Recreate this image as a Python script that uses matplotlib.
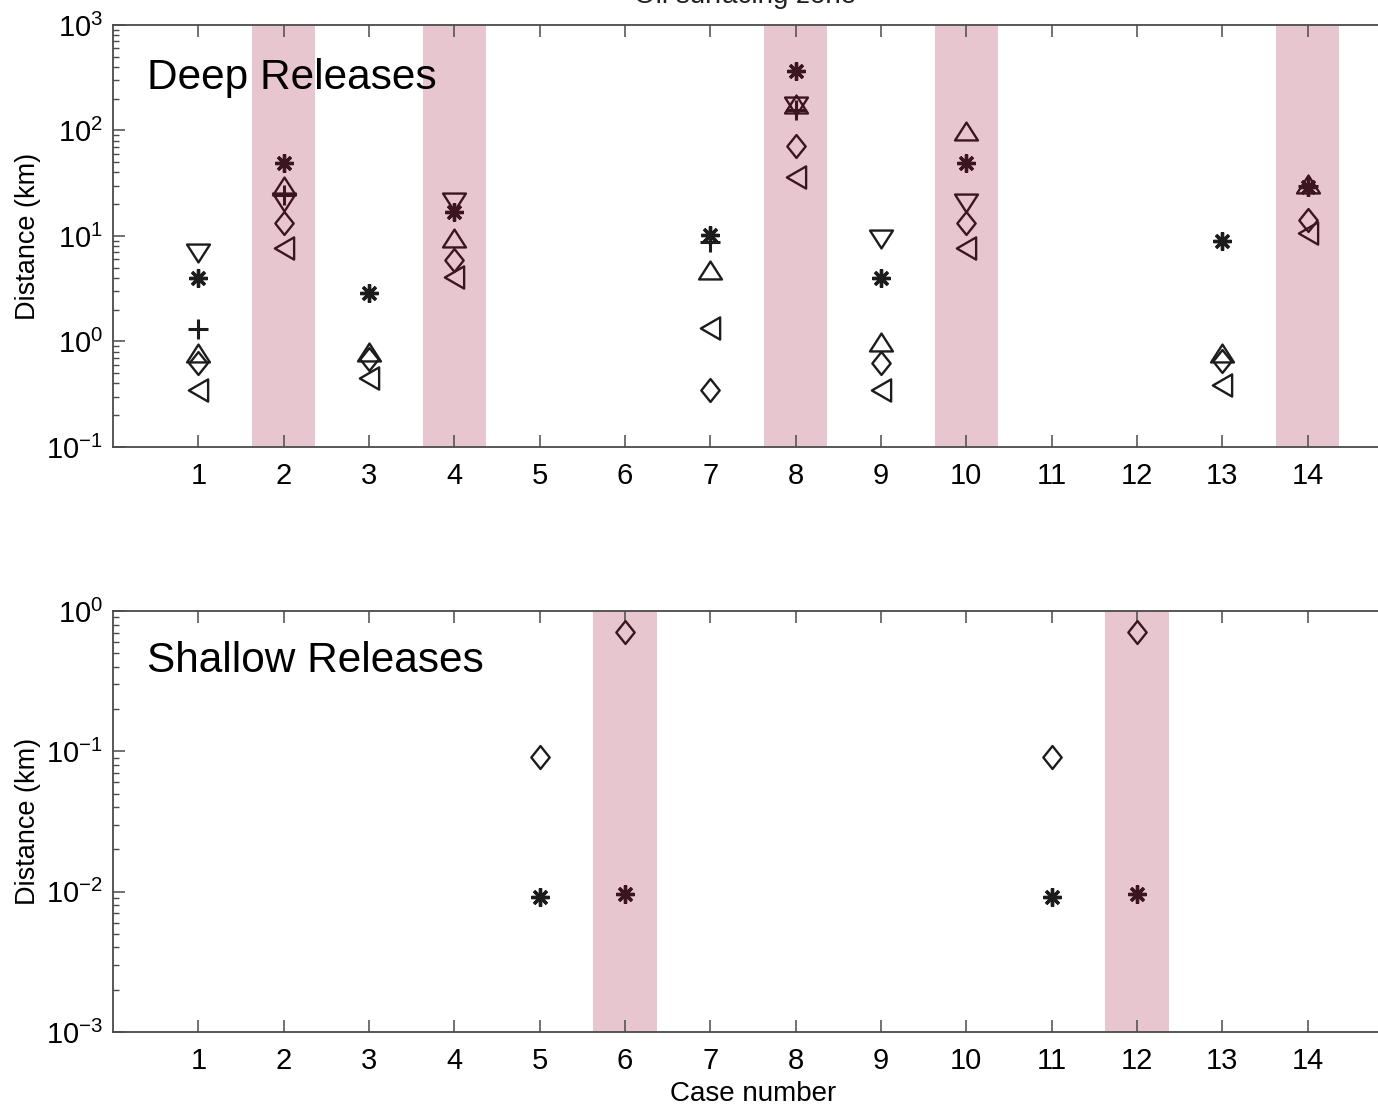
import numpy as np
import matplotlib.pyplot as plt
from matplotlib.path import Path
from matplotlib.ticker import LogLocator, FixedLocator, NullFormatter, LogFormatterMathtext

plt.rcParams['font.family'] = ['Liberation Sans', 'DejaVu Sans']
plt.rcParams['mathtext.fontset'] = 'custom'
plt.rcParams['mathtext.rm'] = 'Liberation Sans'
plt.rcParams['mathtext.it'] = 'Liberation Sans:italic'

# deep releases, one list per model/marker (None = no value)
deep_cases = [1, 2, 3, 4, 7, 8, 9, 10, 13, 14]
deep_down = [6.9, 21, None, 21, None, 170, 9.4, 20.6, None, None]
deep_star = [4.0, 49, 2.9, 16.9, 10.2, 366, 4.0, 49, 9.0, 29]
deep_plus = [1.3, 24.5, None, None, 8.8, 156, None, None, None, 30]
deep_up = [0.78, 30, 0.8, 9.6, 4.8, 180, 0.99, 99, 0.78, 31]
deep_diamond = [0.63, 13.3, 0.68, 5.9, 0.35, 71, 0.63, 13.2, 0.65, 14.2]
deep_left = [0.35, 7.7, 0.45, 4.1, 1.34, 36, 0.35, 7.7, 0.39, 10.7]
deep_shaded = [2, 4, 8, 10, 14]

# shallow releases
shallow_cases = [5, 6, 11, 12]
shallow_diamond = [0.091, 0.71, 0.091, 0.71]
shallow_star = [0.0092, 0.0096, 0.0092, 0.0096]
shallow_shaded = [6, 12]

case_ticks = list(range(1, 15))

BAND = '#e8c6d0'
INK = '#1c1c1c'
INK_BAND = '#3b1621'
SPINE = '#4a4a4a'

up_tri = Path([(-1, -0.78), (1, -0.78), (0, 0.78), (-1, -0.78)], closed=True)
down_tri = Path([(-1, 0.78), (1, 0.78), (0, -0.78), (-1, 0.78)], closed=True)
left_tri = Path([(-0.78, 0), (0.78, 0.9), (0.78, -0.9), (-0.78, 0)], closed=True)
diamond = Path([(0, 1), (0.8, 0), (0, -1), (-0.8, 0), (0, 1)], closed=True)

STYLES = {
    'down': dict(marker=down_tri, ms=16.5, mew=1.7, mfc='none'),
    'up': dict(marker=up_tri, ms=16.5, mew=1.7, mfc='none'),
    'left': dict(marker=left_tri, ms=16, mew=1.7, mfc='none'),
    'diamond': dict(marker=diamond, ms=16.5, mew=1.7, mfc='none'),
    'star': dict(marker=(8, 2, 0), ms=13, mew=2.4),
    'plus': dict(marker='+', ms=14, mew=2.2),
}


def draw_series(ax, cases, values, kind, shaded):
    for c, v in zip(cases, values):
        if v is None:
            continue
        col = INK_BAND if c in shaded else INK
        ax.plot([c], [v], linestyle='none', color=col, mec=col, zorder=3, **STYLES[kind])


def style_axes(ax, ymin, ymax):
    ax.set_yscale('log')
    ax.set_xlim(0, 15)
    ax.set_ylim(ymin, ymax)
    ax.xaxis.set_major_locator(FixedLocator(case_ticks))
    ax.yaxis.set_major_locator(LogLocator(base=10, numticks=10))
    ax.yaxis.set_minor_locator(LogLocator(base=10, subs=np.arange(2, 10), numticks=20))
    ax.yaxis.set_major_formatter(LogFormatterMathtext())
    ax.yaxis.set_minor_formatter(NullFormatter())
    ax.tick_params(axis='both', which='major', direction='in', length=8.5, width=1.1,
                   color=SPINE, labelsize=21, top=True, right=True)
    ax.tick_params(axis='y', which='major', pad=7)
    ax.tick_params(axis='x', which='major', pad=11)
    ax.tick_params(axis='y', which='minor', direction='in', length=4.3, width=1.0,
                   color=SPINE, right=True)
    for s in ax.spines.values():
        s.set_color(SPINE)
        s.set_linewidth(1.3)
    ax.set_ylabel('Distance (km)', fontsize=19.5, labelpad=4)


fig = plt.figure(figsize=(13.78, 11.08), dpi=100)
ax1 = fig.add_axes([0.0820, 0.5966, 0.9289, 0.3809])
ax2 = fig.add_axes([0.0820, 0.0686, 0.9289, 0.3800])

for c in deep_shaded:
    ax1.axvspan(c - 0.37, c + 0.37, color=BAND, lw=0, zorder=1)
for c in shallow_shaded:
    ax2.axvspan(c - 0.37, c + 0.37, color=BAND, lw=0, zorder=1)

draw_series(ax1, deep_cases, deep_down, 'down', deep_shaded)
draw_series(ax1, deep_cases, deep_star, 'star', deep_shaded)
draw_series(ax1, deep_cases, deep_plus, 'plus', deep_shaded)
draw_series(ax1, deep_cases, deep_up, 'up', deep_shaded)
draw_series(ax1, deep_cases, deep_diamond, 'diamond', deep_shaded)
draw_series(ax1, deep_cases, deep_left, 'left', deep_shaded)

draw_series(ax2, shallow_cases, shallow_diamond, 'diamond', shallow_shaded)
draw_series(ax2, shallow_cases, shallow_star, 'star', shallow_shaded)

style_axes(ax1, 1e-1, 1e3)
style_axes(ax2, 1e-3, 1e0)
ax2.set_xlabel('Case number', fontsize=20, labelpad=4)

ax1.text(0.4, 10 ** 2.5, 'Deep Releases', fontsize=30.5, va='center', ha='left', zorder=4)
ax2.text(0.4, 10 ** -0.36, 'Shallow Releases', fontsize=30.5, va='center', ha='left', zorder=4)

fig.text(0.541, 0.9973, 'Oil surfacing zone', fontsize=20, ha='center', va='baseline',
         color='#222222')

fig.savefig('out.png', dpi=100)
